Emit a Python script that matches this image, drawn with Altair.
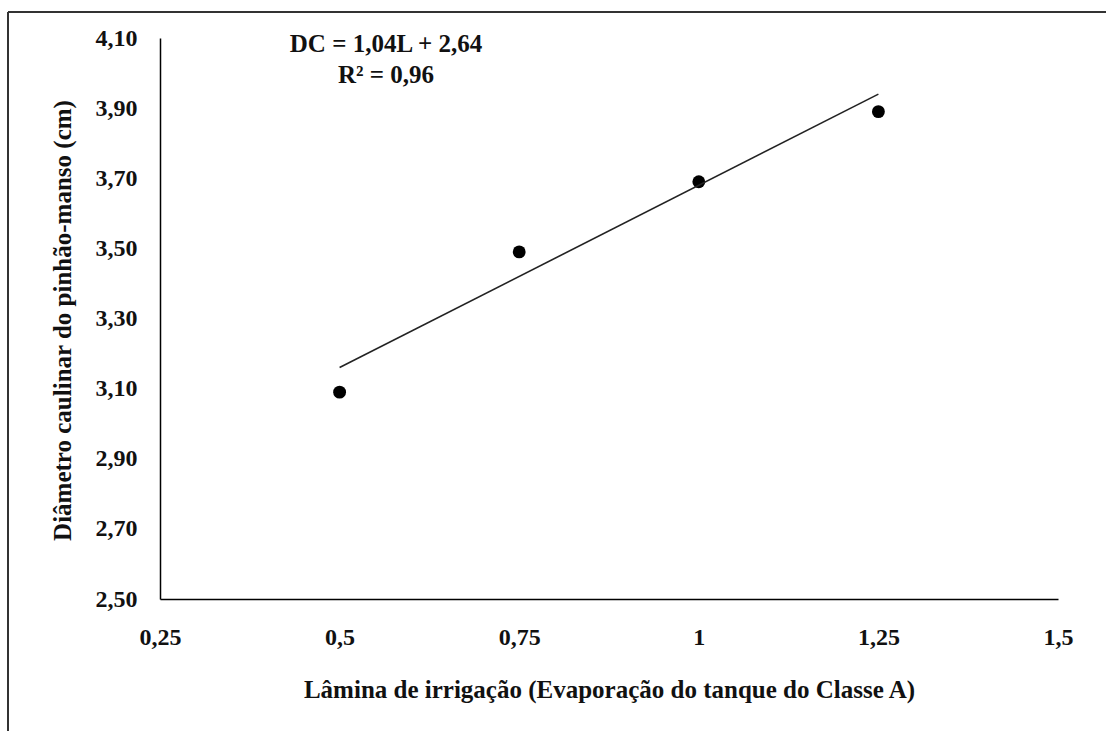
import altair as alt
import pandas as pd

# Observed data
lamina = [0.5, 0.75, 1.0, 1.25]
diametro = [3.09, 3.49, 3.69, 3.89]

# Regression line endpoints (as drawn)
line_x = [0.5, 1.25]
line_y = [3.16, 3.94]

x_ticks = [0.25, 0.5, 0.75, 1.0, 1.25, 1.5]
y_ticks = [2.5, 2.7, 2.9, 3.1, 3.3, 3.5, 3.7, 3.9, 4.1]

eq_lines = ["DC = 1,04L + 2,64", "R² = 0,96"]

x_title = "Lâmina de irrigação (Evaporação do tanque do Classe A)"
y_title = "Diâmetro caulinar do pinhão-manso (cm)"

FONT = "Liberation Serif"
FS = 24
FT = 25
TOTAL_W, TOTAL_H = 1106, 731
W, H = 898, 561
LEFT, TOP = 160, 38

pts = pd.DataFrame({"L": lamina, "DC": diametro})
reg = pd.DataFrame({"L": line_x, "DC": line_y})

xscale = alt.Scale(domain=[0.25, 1.5], nice=False, zero=False)
yscale = alt.Scale(domain=[2.5, 4.1], nice=False, zero=False)

xaxis = alt.Axis(
    values=x_ticks,
    labelExpr="replace(toString(datum.value), '.', ',')",
    title=x_title,
    titleX=W / 2,
    titleY=98,
    titleAnchor="middle",
    titleBaseline="alphabetic",
    labelPadding=26,
    labelFlush=False,
)
yaxis = alt.Axis(
    values=y_ticks,
    labelExpr="replace(format(datum.value, '.2f'), '.', ',')",
    title=y_title,
    titleX=-90,
    titleY=282,
    titleAngle=-90,
    titleAnchor="middle",
    titleBaseline="alphabetic",
    labelPadding=23,
    labelFlush=False,
)

points = alt.Chart(pts).mark_point(
    filled=True, size=165, color="black", opacity=1
).encode(
    x=alt.X("L:Q", scale=xscale, axis=xaxis),
    y=alt.Y("DC:Q", scale=yscale, axis=yaxis),
)

trend = alt.Chart(reg).mark_line(color="#222222", strokeWidth=1.6).encode(
    x=alt.X("L:Q", scale=xscale, axis=xaxis),
    y=alt.Y("DC:Q", scale=yscale, axis=yaxis),
)

def eq_layer(txt, ypix):
    return alt.Chart(pd.DataFrame({"t": [txt]})).mark_text(
        font=FONT, fontWeight="bold", fontSize=FT, color="#111111",
        align="center", baseline="middle"
    ).encode(
        x=alt.value(386 - LEFT),
        y=alt.value(ypix - TOP),
        text="t:N",
    )

eq1 = eq_layer(eq_lines[0], 44)
eq2 = eq_layer(eq_lines[1], 75)

frame_left = alt.Chart(pts).mark_rule(color="#333333", strokeWidth=1.5).encode(
    x=alt.value(8 - LEFT), y=alt.value(12 - TOP), y2=alt.value(TOTAL_H - TOP + 5)
)
frame_top = alt.Chart(pts).mark_rule(color="#333333", strokeWidth=1.5).encode(
    x=alt.value(8 - LEFT), x2=alt.value(TOTAL_W - LEFT + 5), y=alt.value(12 - TOP)
)

chart = alt.layer(points, trend, frame_left, frame_top, eq1, eq2).properties(
    width=W,
    height=H,
    autosize=alt.AutoSizeParams(type="none"),
    padding={"left": LEFT, "top": TOP,
             "right": TOTAL_W - LEFT - W, "bottom": TOTAL_H - TOP - H},
    background="white",
).configure_view(stroke=None).configure_axis(
    domainColor="black",
    domainWidth=1.5,
    ticks=False,
    grid=False,
    labelFont=FONT,
    labelFontSize=FS,
    labelFontWeight="bold",
    labelColor="#111111",
    titleFont=FONT,
    titleFontSize=FT,
    titleFontWeight="bold",
    titleColor="#111111",
)

chart.save("out.html", embed_options={"renderer": "svg", "actions": False})
